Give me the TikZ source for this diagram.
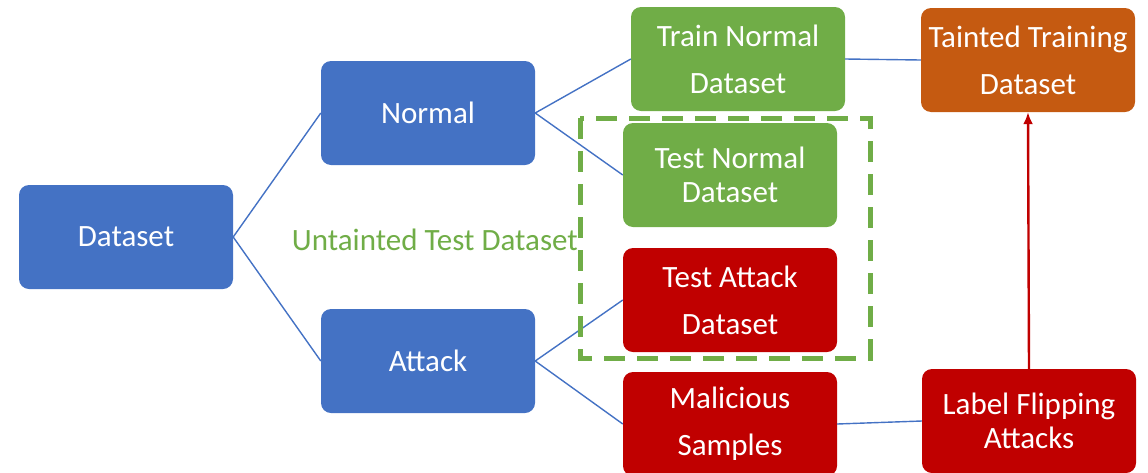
\documentclass[tikz,border=0pt]{standalone}
\usepackage{fontspec}
\setmainfont{Carlito}
\usetikzlibrary{arrows.meta}
\definecolor{boxblue}{HTML}{4472C4}
\definecolor{boxgreen}{HTML}{70AD47}
\definecolor{boxred}{HTML}{C00000}
\definecolor{boxorange}{HTML}{C55A11}
\begin{document}
\begin{tikzpicture}[x=1pt,y=-1pt,
  box/.style={rounded corners=10pt, minimum width=214pt, minimum height=104pt,
    inner sep=0pt, align=center, text=white, font=\fontsize{31}{47}\selectfont},
  tight/.style={font=\fontsize{31}{34}\selectfont},
  link/.style={draw=boxblue, line width=1.4pt},
  flow/.style={draw=boxred, line width=2.4pt, -{Latex[length=12pt,width=10pt]}}]
\useasboundingbox (0,0) rectangle (1148,472);
\clip (0,0) rectangle (1148,472);
% tree of datasets
\node[box, fill=boxblue] (ds) at (126,237) {Dataset};
\node[box, fill=boxblue] (nor) at (428,113) {Normal};
\node[box, fill=boxblue] (att) at (428,361) {Attack};
\node[box, fill=boxgreen] (trn) at (738,59) {Train Normal\\Dataset};
\node[box, fill=boxgreen, tight] (tsn) at (730,175) {Test Normal\\Dataset};
\node[box, fill=boxred] (tsa) at (730,300) {Test Attack\\Dataset};
\node[box, fill=boxred] (mal) at (730,424) {Malicious\\Samples};
\node[box, fill=boxorange] (tnt) at (1028,60) {Tainted Training\\Dataset};
\node[box, fill=boxred, tight] (lfa) at (1029,421) {Label Flipping\\Attacks};
% connectors
\draw[link] (ds.east) -- (nor.west);
\draw[link] (ds.east) -- (att.west);
\draw[link] (nor.east) -- (trn.west);
\draw[link] (nor.east) -- (tsn.west);
\draw[link] (att.east) -- (tsa.west);
\draw[link] (att.east) -- (mal.west);
\draw[link] (trn.east) -- (tnt.west);
\draw[link] (mal.east) -- (lfa.west);
\draw[flow] (lfa.north) -- (tnt.south);
% untainted test group
\coordinate (g1) at (580,118);
\coordinate (g2) at (870,358);
\draw[boxgreen, line width=5pt, dash pattern=on 21pt off 12pt] (g1) rectangle (g2);
\node[text=boxgreen, font=\fontsize{31}{36}\selectfont, anchor=east, inner sep=0pt] (lbl) at (578,240) {Untainted Test Dataset};
\end{tikzpicture}
\end{document}
